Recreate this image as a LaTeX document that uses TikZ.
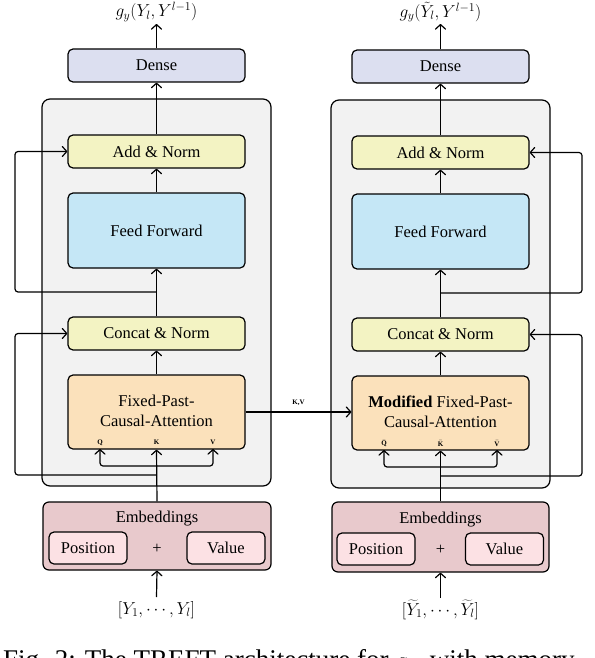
\documentclass[tikz,border=0pt]{standalone}
\usepackage{fontspec}
\setmainfont{Liberation Serif}
\usetikzlibrary{arrows.meta}
\definecolor{densec}{HTML}{DCDFF0}
\definecolor{normc}{HTML}{F3F3C3}
\definecolor{ffc}{HTML}{C5E7F6}
\definecolor{attc}{HTML}{FBE1BB}
\definecolor{grayc}{HTML}{F2F2F2}
\definecolor{embc}{HTML}{E8C9CC}
\definecolor{posc}{HTML}{FCE1E4}
\begin{document}
\begin{tikzpicture}[x=1pt,y=-1pt,
  font=\fontsize{16.5}{20}\selectfont,
  >={Straight Barb[length=4.5pt,width=10pt,round,line width=1.2pt]},
  box/.style={draw=black, line width=1.2pt, rounded corners=5pt, minimum width=177pt, minimum height=33pt, inner sep=0pt, align=center},
  bigbox/.style={draw=black, line width=1.2pt, rounded corners=8pt, inner sep=0pt},
  smallbox/.style={draw=black, line width=1.2pt, rounded corners=5pt, minimum width=78pt, minimum height=32pt, inner sep=0pt, fill=posc},
  conn/.style={line width=1.2pt, ->},
  qkv/.style={font=\fontsize{7}{8}\selectfont\bfseries, inner sep=0pt},
  lbl/.style={inner sep=0pt}
]
\useasboundingbox (0,0) rectangle (594,658);

% ---------- left column ----------
\node[bigbox, fill=grayc, minimum width=229pt, minimum height=387pt] (grayL) at (156.5,292.5) {};
\node[box, fill=densec] (denseL) at (156.5,65.5) {Dense};
\node[box, fill=normc] (addL) at (156.5,151.5) {Add \& Norm};
\node[box, fill=ffc, minimum height=75pt] (ffL) at (156.5,230.5) {Feed Forward};
\node[box, fill=normc] (catL) at (156.5,333.5) {Concat \& Norm};
\node[box, fill=attc, minimum height=74pt] (attL) at (156.5,412) {};
\node[lbl, align=center] (attLt) at (156.5,410.5) {Fixed-Past-\\Causal-Attention};
\node[qkv] (qL) at (100,442.5) {Q};
\node[qkv] (kL) at (156.5,442.5) {K};
\node[qkv] (vL) at (213,442.5) {V};
\node[bigbox, fill=embc, minimum width=228pt, minimum height=68pt, rounded corners=6pt] (embL) at (157,536) {};
\node[lbl] (embLt) at (157,518.5) {Embeddings};
\node[smallbox] (posL) at (88,548) {Position};
\node[lbl] (plusL) at (157,549) {+};
\node[smallbox] (valL) at (226,548) {Value};
\node[lbl] (outL) at (156.5,12) {$g_y(Y_l, Y^{l-1})$};
\node[lbl] (inL) at (156.5,610) {$\bigl[Y_1,\cdots,Y_l\bigr]$};

\coordinate (topL) at (156.5,24);
\coordinate (botL) at (156.5,597);
\draw[conn] (denseL.north) -- (topL);
\draw[conn] (addL.north) -- (denseL.south);
\draw[conn] (ffL.north) -- (addL.south);
\draw[conn] (catL.north) -- (ffL.south);
\draw[conn] (attL.north) -- (catL.south);
\draw[conn] (embL.north) -- (attL.south);
\draw[conn] (botL) -- (embL.south);
\coordinate (sL1) at (156.5,292);
\draw[conn, rounded corners=3pt] (sL1) -| (15,151.5) -- (addL.west);
\coordinate (sL2) at (156.5,475);
\draw[conn, rounded corners=3pt] (sL2) -| (15,333.5) -- (catL.west);
\coordinate (bLq) at (100,449);
\coordinate (bLv) at (213,449);
\draw[line width=1.2pt, <->, rounded corners=3pt] (bLq) -- (100,466) -- (213,466) -- (bLv);

% ---------- right column ----------
\node[bigbox, fill=grayc, minimum width=219pt, minimum height=388pt] (grayR) at (440.5,294) {};
\node[box, fill=densec] (denseR) at (440.5,66.5) {Dense};
\node[box, fill=normc] (addR) at (440.5,152.5) {Add \& Norm};
\node[box, fill=ffc, minimum height=75pt] (ffR) at (440.5,231.5) {Feed Forward};
\node[box, fill=normc] (catR) at (440.5,334.5) {Concat \& Norm};
\node[box, fill=attc, minimum height=74pt] (attR) at (440.5,413) {};
\node[lbl, align=center] (attRt) at (440.5,411.5) {\textbf{Modified} Fixed-Past-\\Causal-Attention};
\node[qkv] (qR) at (384,443.5) {$\bar{\mathbf{Q}}$};
\node[qkv] (kR) at (440.5,443.5) {$\bar{\mathbf{K}}$};
\node[qkv] (vR) at (497,443.5) {$\bar{\mathbf{V}}$};
\node[bigbox, fill=embc, minimum width=217pt, minimum height=70pt, rounded corners=6pt] (embR) at (440.5,537) {};
\node[lbl] (embRt) at (440.5,519.5) {Embeddings};
\node[smallbox] (posR) at (376,549) {Position};
\node[lbl] (plusR) at (440.5,550) {+};
\node[smallbox] (valR) at (504.5,549) {Value};
\node[lbl] (outR) at (440.5,12) {$g_y(\tilde{Y}_l, Y^{l-1})$};
\node[lbl] (inR) at (440.5,610) {$\bigl[\widetilde{Y}_1,\cdots,\widetilde{Y}_l\bigr]$};

\coordinate (topR) at (440.5,24);
\coordinate (botR) at (440.5,598);
\draw[conn] (denseR.north) -- (topR);
\draw[conn] (addR.north) -- (denseR.south);
\draw[conn] (ffR.north) -- (addR.south);
\draw[conn] (catR.north) -- (ffR.south);
\draw[conn] (attR.north) -- (catR.south);
\draw[conn] (embR.north) -- (attR.south);
\draw[conn] (botR) -- (embR.south);
\coordinate (sR1) at (440.5,293);
\draw[conn, rounded corners=3pt] (sR1) -| (582,152.5) -- (addR.east);
\coordinate (sR2) at (440.5,476);
\draw[conn, rounded corners=3pt] (sR2) -| (582,334.5) -- (catR.east);
\coordinate (bRq) at (384,450);
\coordinate (bRv) at (497,450);
\draw[line width=1.2pt, <->, rounded corners=3pt] (bRq) -- (384,467) -- (497,467) -- (bRv);

% ---------- K,V connection ----------
\draw[conn] (attL.east |- 0,412) -- node[qkv, above=6pt] (kvlbl) {K,V} (attR.west |- 0,412);

% ---------- caption (cut off by the page) ----------
\node[anchor=base west, inner sep=0pt, font=\fontsize{27}{30}\selectfont] (cap) at (3,668) {Fig. 2: The TREFT architecture for $g_{y}$\ \ with memory};
\end{tikzpicture}
\end{document}
